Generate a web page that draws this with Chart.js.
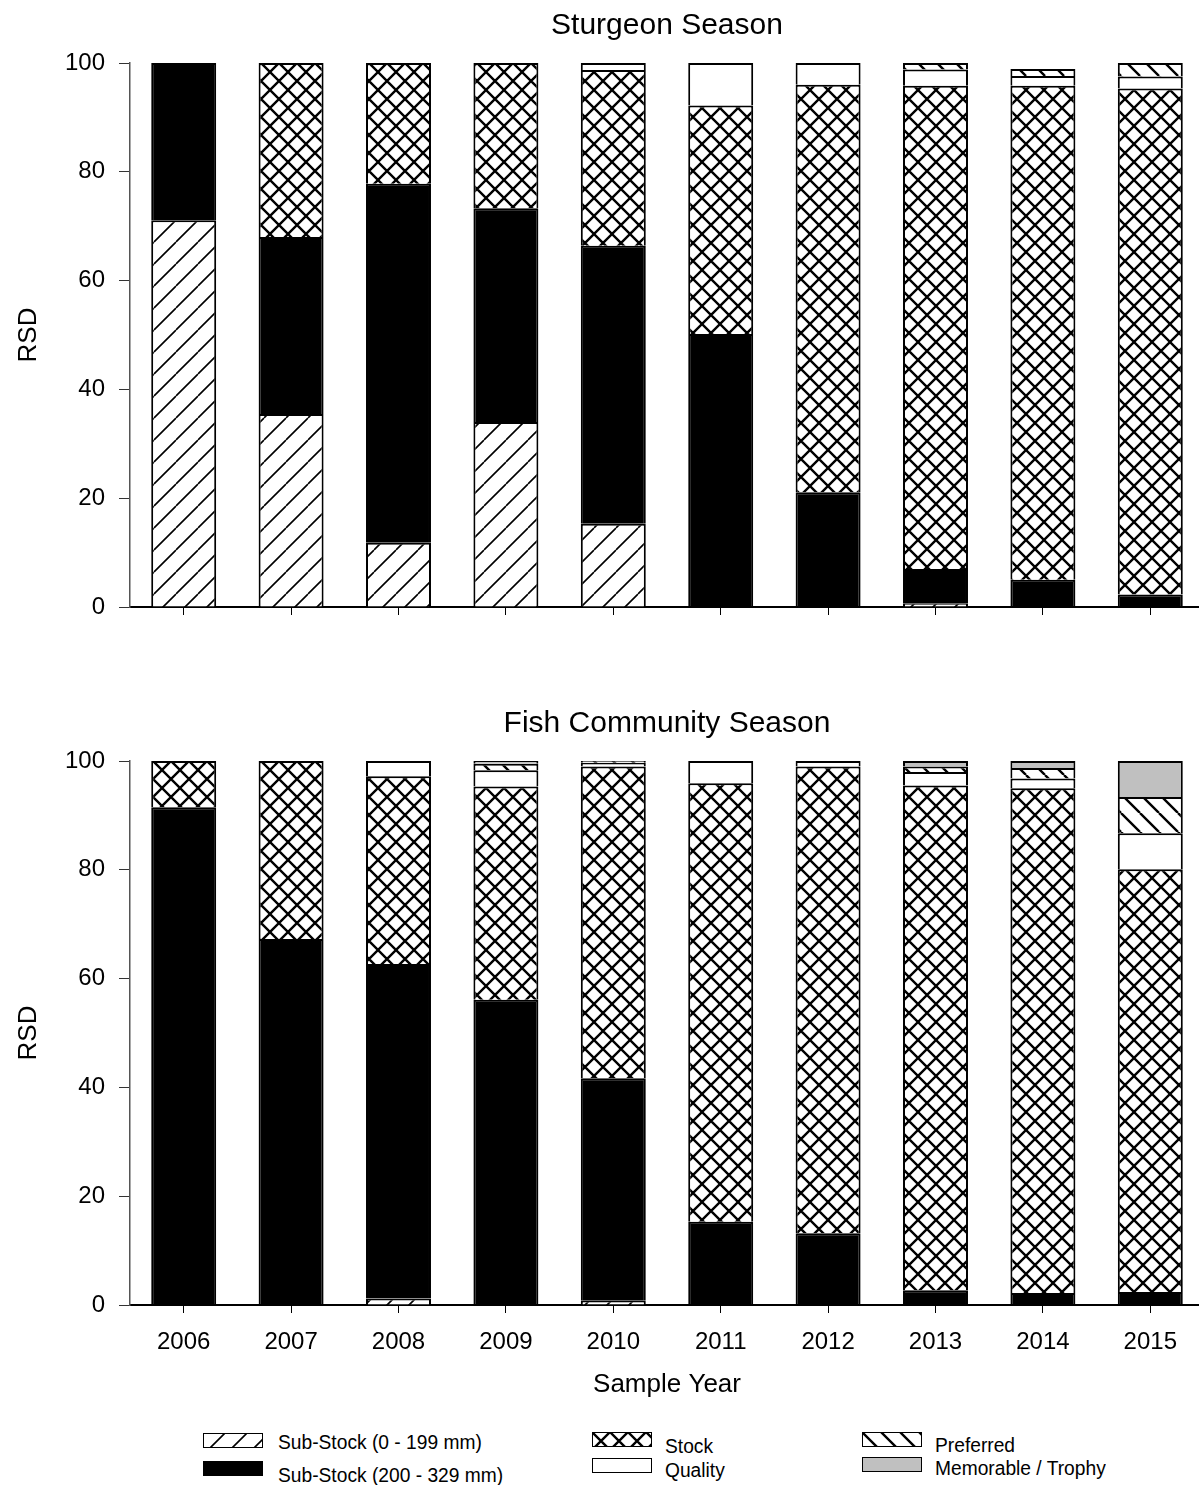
<!DOCTYPE html>
<html>
<head>
<meta charset="utf-8">
<title>RSD by sample year</title>
<script src="https://cdn.jsdelivr.net/npm/chart.js"></script>
<style>
  html, body { margin: 0; padding: 0; background: #fff; overflow: hidden; }
  body { width: 1199px; height: 1485px; position: relative; font-family: "Liberation Sans", Arial, sans-serif; }
  canvas.chart { position: absolute; left: 0; }
  #chartTop { top: 0; }
  #chartBottom { top: 680px; }
  .leg { position: absolute; font-size: 20px; color: #000; white-space: nowrap; line-height: 20px; transform: scaleX(0.96); transform-origin: left center; }
  .sw { position: absolute; }
</style>
</head>
<body>
<canvas id="chartTop" class="chart" width="1205" height="640"></canvas>
<canvas id="chartBottom" class="chart" width="1205" height="740"></canvas>
<div id="legend"></div>
<script>
const years = ["2006", "2007", "2008", "2009", "2010", "2011", "2012", "2013", "2014", "2015"];
const yTicks = [0, 20, 40, 60, 80, 100];

const categories = [
  "Sub-Stock (0 - 199 mm)",
  "Sub-Stock (200 - 329 mm)",
  "Stock",
  "Quality",
  "Preferred",
  "Memorable / Trophy",
];

// Sturgeon season, % of catch per size class
const sturgeonSub1 = [71.1, 35.5, 11.8, 34.0, 15.3, 0, 0, 0.7, 0, 0];
const sturgeonSub2 = [28.9, 32.5, 66.0, 39.3, 51.1, 50.2, 21.1, 6.3, 5.0, 2.3];
const sturgeonStock = [0, 32.0, 22.2, 26.7, 32.3, 42.0, 74.9, 88.8, 90.8, 93.0];
const sturgeonQuality = [0, 0, 0, 0, 1.3, 7.8, 4.0, 3.0, 1.8, 2.2];
const sturgeonPreferred = [0, 0, 0, 0, 0, 0, 0, 1.2, 1.3, 2.5];
const sturgeonMemorable = [0, 0, 0, 0, 0, 0, 0, 0, 0, 0];

// Fish community season
const fishSub1 = [0, 0, 1.2, 0, 0.8, 0, 0, 0, 0, 0];
const fishSub2 = [91.5, 67.3, 61.5, 56.1, 40.9, 15.3, 13.2, 2.7, 2.2, 2.4];
const fishStock = [8.5, 32.7, 34.5, 39.2, 57.3, 80.6, 85.8, 92.8, 92.8, 77.7];
const fishQuality = [0, 0, 2.8, 3.0, 0.7, 4.1, 1.0, 2.5, 1.8, 6.6];
const fishPreferred = [0, 0, 0, 1.2, 0.3, 0, 0, 1.0, 1.9, 6.7];
const fishMemorable = [0, 0, 0, 0.5, 0, 0, 0, 1.0, 1.3, 6.6];

const FONT = "'Liberation Sans', Arial, sans-serif";

// pattern tiles, one per size class
const makeTile = (kind) => {
  const size = kind === "stock" ? 18 : kind === "preferred" ? 19 : 22;
  const c = document.createElement("canvas");
  c.width = size;
  c.height = size;
  const g = c.getContext("2d");
  g.fillStyle = kind === "solid" ? "#000" : kind === "gray" ? "#c0c0c0" : "#fff";
  g.fillRect(0, 0, size, size);
  g.strokeStyle = "#000";
  g.beginPath();
  for (const k of [-size, 0, size]) {
    if (kind === "forward" || kind === "stock") {
      g.moveTo(k, size);
      g.lineTo(k + size, 0);
    }
    if (kind === "preferred" || kind === "stock") {
      g.moveTo(k, 0);
      g.lineTo(k + size, size);
    }
  }
  g.lineWidth = kind === "forward" ? 1.6 : 2.4;
  g.stroke();
  return c;
};

const tileKinds = ["forward", "solid", "stock", "white", "preferred", "gray"];
const tiles = tileKinds.map(makeTile);

const buildChart = (canvasId, titleText, series, opts) => {
  const canvas = document.getElementById(canvasId);
  const ctx = canvas.getContext("2d");
  const datasets = series.map(function (values, i) {
    return {
      label: categories[i],
      data: values.map((v) => (v === 0 ? null : v)),
      backgroundColor: ctx.createPattern(tiles[i], "repeat"),
      borderColor: "#000",
      borderWidth: 2,
      barPercentage: 0.605,
      categoryPercentage: 1,
      stack: "rsd",
    };
  });

  return new Chart(canvas, {
    type: "bar",
    data: { labels: years, datasets },
    options: {
      responsive: false,
      animation: false,
      layout: { padding: { left: 0, right: 1, top: 0, bottom: 0 } },
      plugins: {
        legend: { display: false },
        tooltip: { enabled: false },
        title: {
          display: true,
          text: titleText,
          fullSize: false,
          color: "#000",
          font: { family: FONT, size: 30, weight: "normal" },
          padding: { top: opts.titleTop, bottom: 19 },
        },
      },
      scales: {
        x: {
          stacked: true,
          grid: {
            offset: false,
            drawOnChartArea: false,
            drawTicks: true,
            tickLength: 8,
            color: "#000",
          },
          border: { display: true, color: "#000", width: 2 },
          ticks: {
            display: opts.showYears,
            color: "#000",
            padding: 15,
            maxRotation: 0,
            font: { family: FONT, size: 24 },
          },
          title: {
            display: opts.showYears,
            text: "Sample Year",
            color: "#000",
            font: { family: FONT, size: 26 },
            padding: { top: 0, bottom: 20 },
          },
          afterFit: (scale) => {
            scale.height = opts.xHeight;
          },
        },
        y: {
          stacked: true,
          min: 0,
          max: 100,
          afterBuildTicks: (scale) => {
            scale.ticks = yTicks.map((v) => ({ value: v }));
          },
          grid: { drawOnChartArea: false, tickLength: 11, color: "#333" },
          border: { display: true, color: "#555", width: 1.5 },
          ticks: {
            color: "#000",
            padding: 14,
            font: { family: FONT, size: 24 },
          },
          title: {
            display: true,
            text: "RSD",
            color: "#000",
            font: { family: FONT, size: 26 },
            padding: { top: 13, bottom: 0 },
          },
          afterFit: (scale) => {
            scale.width = 130;
          },
        },
      },
    },
  });
};

buildChart(
  "chartTop",
  "Sturgeon Season",
  [sturgeonSub1, sturgeonSub2, sturgeonStock, sturgeonQuality, sturgeonPreferred, sturgeonMemorable],
  { titleTop: 8, showYears: false, xHeight: 33 }
);

buildChart(
  "chartBottom",
  "Fish Community Season",
  [fishSub1, fishSub2, fishStock, fishQuality, fishPreferred, fishMemorable],
  { titleTop: 26, showYears: true, xHeight: 115 }
);

// legend, three columns of two entries
const legendSpots = [
  { box: [203, 1433], text: [278, 1432] },
  { box: [203, 1461], text: [278, 1465] },
  { box: [592, 1432], text: [665, 1436] },
  { box: [592, 1458], text: [665, 1460] },
  { box: [862, 1432], text: [935, 1435] },
  { box: [862, 1457], text: [935, 1458] },
];
const legendOrder = [0, 1, 2, 3, 4, 5];

const legendEl = document.getElementById("legend");
legendOrder.forEach(function (idx, n) {
  const spot = legendSpots[n];
  const sw = document.createElement("canvas");
  sw.className = "sw";
  sw.width = 60;
  sw.height = 15;
  sw.style.left = spot.box[0] + "px";
  sw.style.top = spot.box[1] + "px";
  const g = sw.getContext("2d");
  g.fillStyle = g.createPattern(tiles[idx], "repeat");
  g.fillRect(0, 0, 60, 15);
  g.strokeStyle = "#000";
  g.lineWidth = 1;
  g.strokeRect(0.5, 0.5, 59, 14);
  legendEl.appendChild(sw);

  const label = document.createElement("div");
  label.className = "leg";
  label.style.left = spot.text[0] + "px";
  label.style.top = spot.text[1] + "px";
  label.textContent = categories[idx];
  legendEl.appendChild(label);
});
</script>
</body>
</html>
